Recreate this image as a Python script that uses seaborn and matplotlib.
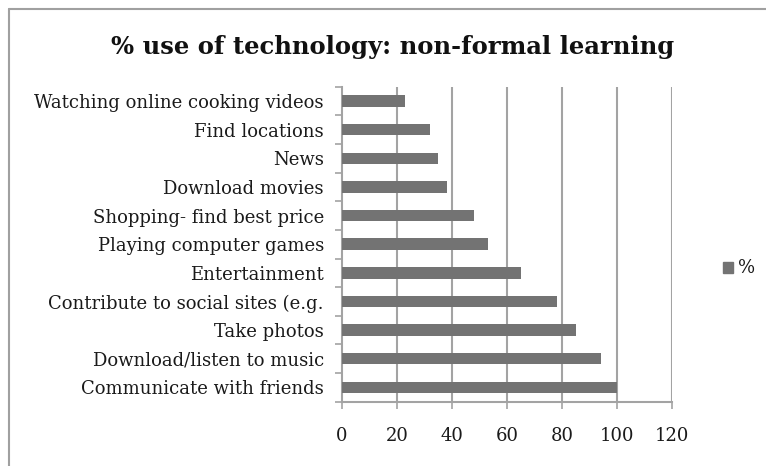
import matplotlib
matplotlib.use("Agg")
import matplotlib.pyplot as plt
import seaborn as sns
import pandas as pd
from matplotlib.lines import Line2D

activities = [
    "Watching online cooking videos",
    "Find locations",
    "News",
    "Download movies",
    "Shopping- find best price",
    "Playing computer games",
    "Entertainment",
    "Contribute to social sites (e.g.",
    "Take photos",
    "Download/listen to music",
    "Communicate with friends",
]
percent = [23, 32, 35, 38, 48, 53, 65, 78, 85, 94, 100]
x_ticks = [0, 20, 40, 60, 80, 100, 120]

title = "% use of technology: non-formal learning"
series_name = "%"

df = pd.DataFrame({"activity": activities, "pct": percent})

sns.set_theme(style="white")
plt.rcParams["font.family"] = ["DejaVu Serif"]

bar_color = "#737373"
grid_color = "#a3a3a3"
text_color = "#1a1a1a"

fig = plt.figure(figsize=(7.66, 4.66), dpi=100)
ax = fig.add_axes([342 / 766, 1 - 401.7 / 466, 330 / 766, 315 / 466])

sns.barplot(data=df, x="pct", y="activity", order=activities, orient="h",
            color=bar_color, width=0.4, saturation=1, ax=ax, zorder=3)
for p in ax.patches:
    p.set_edgecolor("none")

ax.set_xlim(0, 120)
ax.set_ylim(len(activities) - 0.5, -0.5)
ax.set_xticks(x_ticks)
ax.set_xticklabels([str(v) for v in x_ticks], fontsize=13, color=text_color)
ax.tick_params(axis="x", length=5, width=1.2, color=grid_color, pad=13,
               direction="out", bottom=True)
ax.tick_params(axis="y", length=0, pad=13, labelsize=13, labelcolor=text_color)
ax.set_yticks(range(len(activities)))
ax.set_yticklabels(activities)
ax.set_yticks([i - 0.5 for i in range(len(activities) + 1)], minor=True)
ax.tick_params(axis="y", which="minor", length=5, width=1.2, color=grid_color,
               direction="out", left=True)
ax.set_xlabel("")
ax.set_ylabel("")

for v in x_ticks[1:]:
    ax.axvline(v, color=grid_color, lw=1.5, zorder=1)
for side in ["top", "right"]:
    ax.spines[side].set_visible(False)
for side in ["left", "bottom"]:
    ax.spines[side].set_color(grid_color)
    ax.spines[side].set_linewidth(1.5)

fig.text(393 / 766, 1 - 47 / 466, title, ha="center", va="center",
         fontsize=17.5, fontweight="bold", color="#111111")

# legend entry on the right
fig.patches.append(plt.Rectangle((723 / 766, 1 - 273 / 466), 10 / 766, 11 / 466,
                                 transform=fig.transFigure, color=bar_color))
fig.text(738 / 766, 1 - 268 / 466, series_name, ha="left", va="center",
         fontsize=13, color=text_color)

# chart-area frame (top and left edges)
fig.add_artist(Line2D([9 / 766, 9 / 766], [0, 1 - 9 / 466],
                      transform=fig.transFigure, color="#a0a0a0", lw=1.5))
fig.add_artist(Line2D([9 / 766, 1], [1 - 9 / 466, 1 - 9 / 466],
                      transform=fig.transFigure, color="#a0a0a0", lw=1.5))

fig.savefig("out.png", dpi=100)
